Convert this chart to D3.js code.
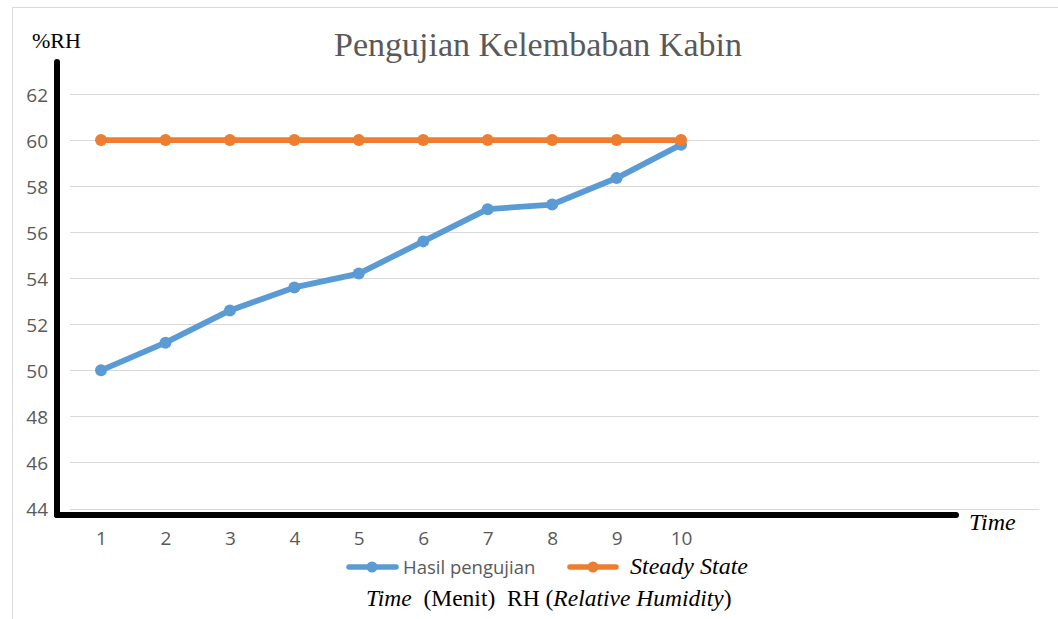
<!DOCTYPE html>
<html>
<head>
<meta charset="utf-8">
<script src="https://cdn.jsdelivr.net/npm/d3@7"></script>
<style>
  html, body { margin: 0; padding: 0; background: #fff; }
  svg { display: block; }
</style>
</head>
<body>
<svg id="chart" width="1058" height="619"></svg>
<script>
// ---- data ----
const categories = [1, 2, 3, 4, 5, 6, 7, 8, 9, 10];
const hasilPengujian = [50.0, 51.2, 52.6, 53.6, 54.2, 55.6, 57.0, 57.2, 58.35, 59.8];
const steadyState = [60, 60, 60, 60, 60, 60, 60, 60, 60, 60];
const yTicks = [44, 46, 48, 50, 52, 54, 56, 58, 60, 62];
const slotCount = 15; // category slots shown along the axis

const svg = d3.select("#chart");

// frame
svg.append("path")
  .attr("d", "M12.5,619 L12.5,7.5 L1058,7.5")
  .attr("fill", "none").attr("stroke", "#d9d9d9").attr("stroke-width", 1);

const x = d3.scaleLinear().domain([0.5, slotCount + 0.5]).range([68.8, 1035.5]);
const y = d3.scaleLinear().domain([44, 62]).range([508.5, 94]);

// gridlines
svg.append("g").selectAll("line").data(yTicks).join("line")
  .attr("x1", 70).attr("x2", 1039)
  .attr("y1", d => Math.round(y(d)) + 0.5).attr("y2", d => Math.round(y(d)) + 0.5)
  .attr("stroke", "#d9d9d9").attr("stroke-width", 1.2);

// y tick labels
const yAxis = d3.axisLeft(y).tickValues(yTicks).tickSize(0).tickPadding(0);
const gy = svg.append("g").attr("transform", "translate(48,1)").call(yAxis);
gy.select(".domain").remove();
gy.attr("font-size", null).attr("font-family", null);
gy.selectAll("text")
  .style("font-family", "'Open Sans', sans-serif").style("font-size", "19px")
  .attr("fill", "#595959");

// x tick labels
const xAxis = d3.axisBottom(x).tickValues(categories).tickSize(0).tickPadding(0).tickFormat(d3.format("d"));
const gx = svg.append("g").attr("transform", "translate(0,531)").call(xAxis);
gx.select(".domain").remove();
gx.attr("font-size", null).attr("font-family", null);
gx.selectAll("text")
  .style("font-family", "'Open Sans', sans-serif").style("font-size", "19px")
  .attr("fill", "#595959");

// thick black axes (drawn over)
svg.append("line").attr("x1", 57).attr("x2", 57).attr("y1", 62).attr("y2", 515)
  .attr("stroke", "#000").attr("stroke-width", 6).attr("stroke-linecap", "round");
svg.append("line").attr("x1", 57).attr("x2", 956).attr("y1", 515).attr("y2", 515)
  .attr("stroke", "#000").attr("stroke-width", 6).attr("stroke-linecap", "round");

// series
const line = d3.line().x((d, i) => x(categories[i])).y(d => y(d));
const series = [
  { name: "Hasil pengujian", values: hasilPengujian, color: "#5b9bd5" },
  { name: "Steady State", values: steadyState, color: "#ed7d31" }
];
series.forEach(s => {
  svg.append("path").datum(s.values)
    .attr("d", line).attr("fill", "none")
    .attr("stroke", s.color).attr("stroke-width", 5.8)
    .attr("stroke-linejoin", "round");
  svg.append("g").selectAll("circle").data(s.values).join("circle")
    .attr("cx", (d, i) => x(categories[i])).attr("cy", d => y(d))
    .attr("r", 6).attr("fill", s.color);
});

// title
svg.append("text").attr("x", 538).attr("y", 56).attr("text-anchor", "middle")
  .attr("font-family", "'Liberation Serif', serif").attr("font-size", 34)
  .attr("fill", "#595959").text("Pengujian Kelembaban Kabin");

// y axis title
svg.append("text").attr("x", 32).attr("y", 48)
  .attr("font-family", "'Liberation Serif', serif").attr("font-size", 22)
  .attr("fill", "#000").text("%RH");

// x axis end label
svg.append("text").attr("x", 969).attr("y", 530)
  .attr("font-family", "'Liberation Serif', serif").attr("font-size", 24)
  .attr("font-style", "italic").attr("fill", "#000").text("Time");

// legend
const lg = svg.append("g");
lg.append("line").attr("x1", 349).attr("x2", 396).attr("y1", 567).attr("y2", 567)
  .attr("stroke", series[0].color).attr("stroke-width", 5.5).attr("stroke-linecap", "round");
lg.append("circle").attr("cx", 372).attr("cy", 567).attr("r", 5.5).attr("fill", series[0].color);
lg.append("text").attr("x", 403).attr("y", 574)
  .attr("font-family", "'Open Sans', sans-serif").attr("font-size", 18.5)
  .attr("fill", "#595959").text(series[0].name);
lg.append("line").attr("x1", 570).attr("x2", 616).attr("y1", 567).attr("y2", 567)
  .attr("stroke", series[1].color).attr("stroke-width", 5.5).attr("stroke-linecap", "round");
lg.append("circle").attr("cx", 593).attr("cy", 567).attr("r", 5.5).attr("fill", series[1].color);
lg.append("text").attr("x", 630).attr("y", 574)
  .attr("font-family", "'Liberation Serif', serif").attr("font-size", 24)
  .attr("font-style", "italic").attr("fill", "#000").text(series[1].name);

// caption
const cap = svg.append("text").attr("x", 366).attr("y", 606)
  .attr("font-family", "'Liberation Serif', serif").attr("font-size", 23.5).attr("fill", "#000");
cap.append("tspan").attr("font-style", "italic").text("Time");
cap.append("tspan").text("\u00a0 (Menit)\u00a0 RH (");
cap.append("tspan").attr("font-style", "italic").text("Relative Humidity");
cap.append("tspan").text(")");
</script>
</body>
</html>
